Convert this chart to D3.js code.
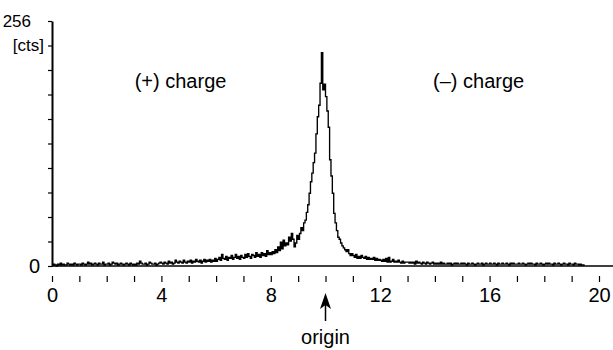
<!DOCTYPE html>
<html>
<head>
<meta charset="utf-8">
<script src="https://cdn.jsdelivr.net/npm/d3@7"></script>
<style>
  body { margin: 0; background: #fff; }
  svg { display: block; font-family: "Liberation Sans", Arial, sans-serif; }
</style>
</head>
<body>
<div id="chart"></div>
<script>
// channel width in position units (0.05 per bin)
var binWidth = 0.05;
// counts per bin, one row per unit of position (20 bins each)
var counts = [
  1,2,1,0,2,1,3,1,2,1,1,3,2,1,2,1,3,2,1,2,
  2,1,3,2,1,2,4,2,3,1,2,3,2,1,3,2,2,4,1,2,
  2,3,1,2,4,3,2,3,1,2,3,2,1,2,3,2,1,3,2,1,
  2,1,3,2,5,3,2,2,3,1,2,4,3,2,2,3,1,2,3,4,
  3,2,4,3,2,5,3,4,2,3,6,4,3,5,4,3,6,4,3,5,
  4,6,3,5,4,7,5,4,6,3,5,7,4,6,5,7,4,6,5,8,
  5,7,9,6,12,8,7,10,6,9,8,11,7,9,12,8,10,7,11,9,
  8,12,9,13,10,8,12,11,9,14,10,12,9,14,11,13,10,16,12,14,
  12,15,13,17,14,20,16,25,18,27,21,24,22,30,26,34,28,20,24,32,
  28,34,40,37,45,48,56,64,76,88,97,108,118,138,156,168,191,223,184,190,
  177,162,145,111,94,76,55,45,37,30,28,24,21,19,17,15,17,13,11,13,
  11,9,12,8,10,8,11,9,8,10,7,9,7,8,7,9,6,8,6,7,
  6,5,7,5,8,4,9,4,5,7,4,5,4,6,4,3,5,3,4,4,
  4,3,4,3,4,2,5,3,4,3,2,4,3,2,4,3,2,3,4,2,
  3,2,3,2,4,2,3,2,2,3,2,3,1,2,3,2,3,2,2,3,
  2,3,2,1,3,2,2,3,2,1,2,3,2,2,3,1,2,3,2,2,
  3,2,2,3,2,1,3,2,2,3,2,2,3,2,1,3,2,3,2,2,
  2,3,2,2,3,2,1,2,3,2,3,2,2,1,3,2,2,3,2,1,
  2,3,2,3,2,2,1,3,2,2,3,2,1,2,3,2,2,1,3,2,
  2,1,3,2,2,1,2,1,1,0
];
var xTickLabels = [0, 4, 8, 12, 16, 20];
var yMax = 256;
var regionLabels = [
  { text: '(+) charge', pos: 4.7 },
  { text: '(\u2013) charge', pos: 15.6 }
];
var originPos = 10;

var width = 613, height = 350;

var svg = d3.select('#chart').append('svg')
  .attr('width', width)
  .attr('height', height);

var xScale = d3.scaleLinear().domain([0, 20]).range([52, 599]);
var yScale = d3.scaleLinear().domain([0, yMax]).range([266, 21]);

// x axis line runs to the right edge
svg.append('line')
  .attr('x1', xScale(0)).attr('x2', width)
  .attr('y1', yScale(0)).attr('y2', yScale(0))
  .attr('stroke', '#000').attr('stroke-width', 1.6);

// small detached ticks below the axis, every unit
var xTicks = svg.append('g')
  .attr('transform', 'translate(0,276)')
  .call(d3.axisBottom(xScale).tickValues(d3.range(0, 21)).tickSize(6).tickFormat(''));
xTicks.select('.domain').remove();
xTicks.selectAll('line').attr('stroke', '#000').attr('stroke-width', 1.2);

// labels every 4 units
var xLabels = svg.append('g')
  .attr('transform', 'translate(0,276)')
  .call(d3.axisBottom(xScale).tickValues(xTickLabels).tickSize(0).tickPadding(12));
xLabels.select('.domain').remove();
xLabels.selectAll('text').attr('font-size', 20).attr('fill', '#000')
  .attr('font-family', '"Liberation Sans", Arial, sans-serif');

// y axis
var yAxis = svg.append('g')
  .attr('transform', 'translate(52,0)')
  .call(d3.axisLeft(yScale).tickValues(d3.range(0, yMax + 1, yMax / 10)).tickSizeInner(4).tickSizeOuter(0).tickFormat(''));
yAxis.select('.domain').attr('stroke', '#000').attr('stroke-width', 2);
yAxis.selectAll('line').attr('stroke', '#000').attr('stroke-width', 1.2);

svg.append('text')
  .attr('x', 40).attr('y', yScale(0)).attr('dy', '0.35em')
  .attr('text-anchor', 'end').attr('font-size', 20)
  .text('0');
svg.append('text')
  .attr('x', 31).attr('y', yScale(yMax)).attr('dy', '0.35em')
  .attr('text-anchor', 'end').attr('font-size', 17)
  .text(yMax);
svg.append('text')
  .attr('x', 44).attr('y', 51)
  .attr('text-anchor', 'end').attr('font-size', 17)
  .text('[cts]');

// the spectrum as a step line
var line = d3.line()
  .x(function (d, i) { return xScale(i * binWidth); })
  .y(function (d) { return yScale(d); })
  .curve(d3.curveStepAfter);

svg.append('path')
  .datum(counts)
  .attr('d', line)
  .attr('fill', 'none')
  .attr('stroke', '#000')
  .attr('stroke-width', 1.35);

// region labels
svg.selectAll('.region')
  .data(regionLabels)
  .enter()
  .append('text')
  .attr('class', 'region')
  .attr('x', function (d) { return xScale(d.pos); })
  .attr('y', 88)
  .attr('text-anchor', 'middle')
  .attr('font-size', 20)
  .text(function (d) { return d.text; });

// origin arrow
var ox = xScale(originPos);
svg.append('line')
  .attr('x1', ox).attr('x2', ox)
  .attr('y1', 321).attr('y2', 302)
  .attr('stroke', '#000').attr('stroke-width', 1.5);
svg.append('path')
  .attr('d', 'M' + ox + ',293 L' + (ox - 5.5) + ',309 L' + ox + ',305 L' + (ox + 5.5) + ',309 Z')
  .attr('fill', '#000');
svg.append('text')
  .attr('x', ox).attr('y', 344)
  .attr('text-anchor', 'middle')
  .attr('font-size', 20)
  .text('origin');
</script>
</body>
</html>
